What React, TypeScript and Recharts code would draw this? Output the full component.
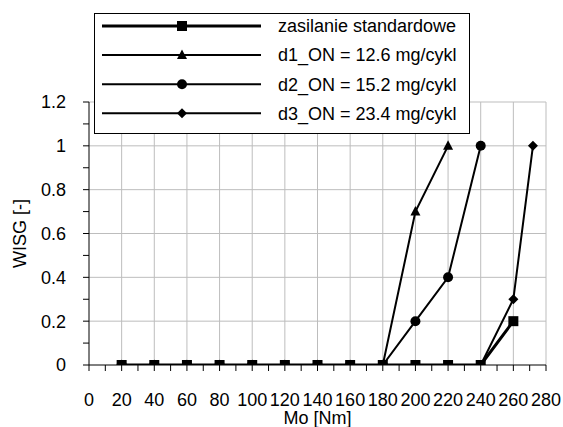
import React from 'react';
import { LineChart, Line, XAxis, YAxis, ReferenceLine, Legend, Label } from 'recharts';

const seriesNames = [
  'zasilanie standardowe',
  'd1_ON = 12.6 mg/cykl',
  'd2_ON = 15.2 mg/cykl',
  'd3_ON = 23.4 mg/cykl',
];

const stdX = [20, 40, 60, 80, 100, 120, 140, 160, 180, 200, 220, 240, 260];
const stdY = [0, 0, 0, 0, 0, 0, 0, 0, 0, 0, 0, 0, 0.2];

const d1X = [20, 40, 60, 80, 100, 120, 140, 160, 180, 200, 220];
const d1Y = [0, 0, 0, 0, 0, 0, 0, 0, 0, 0.7, 1];

const d2X = [20, 40, 60, 80, 100, 120, 140, 160, 180, 200, 220, 240];
const d2Y = [0, 0, 0, 0, 0, 0, 0, 0, 0, 0.2, 0.4, 1];

const d3X = [20, 40, 60, 80, 100, 120, 140, 160, 180, 200, 220, 240, 260, 272];
const d3Y = [0, 0, 0, 0, 0, 0, 0, 0, 0, 0, 0, 0, 0.3, 1];

const xTicks = [0, 10, 20, 30, 40, 50, 60, 70, 80, 90, 100, 110, 120, 130, 140, 150, 160, 170, 180, 190, 200, 210, 220, 230, 240, 250, 260, 270, 280];
const xTickLabels = ['0', '', '20', '', '40', '', '60', '', '80', '', '100', '', '120', '', '140', '', '160', '', '180', '', '200', '', '220', '', '240', '', '260', '', '280'];
const yTicks = [0, 0.1, 0.2, 0.3, 0.4, 0.5, 0.6, 0.7, 0.8, 0.9, 1.0, 1.1, 1.2];
const yTickLabels = ['0', '', '0.2', '', '0.4', '', '0.6', '', '0.8', '', '1', '', '1.2'];
const gridX = [20, 40, 60, 80, 100, 120, 140, 160, 180, 200, 220, 240, 260, 280];
const gridY = [0.2, 0.4, 0.6, 0.8, 1.0, 1.2];

const zip = (xs: number[], ys: number[]) => xs.map((x, i) => ({ x, y: ys[i] }));
const stdData = zip(stdX, stdY);
const d1Data = zip(d1X, d1Y);
const d2Data = zip(d2X, d2Y);
const d3Data = zip(d3X, d3Y);

const FONT = '"Liberation Sans", Arial, sans-serif';
const GRID = '#bdbdbd';

type Shape = 'square' | 'triangle' | 'circle' | 'diamond';
const shapes: Shape[] = ['square', 'triangle', 'circle', 'diamond'];
const widths = [3, 2, 2, 2];

function marker(shape: Shape, cx: number, cy: number, key?: string) {
  switch (shape) {
    case 'square':
      return <rect key={key} x={cx - 5} y={cy - 5} width={10} height={10} fill="#000" />;
    case 'triangle':
      return <polygon key={key} points={`${cx},${cy - 5.5} ${cx + 5},${cy + 4} ${cx - 5},${cy + 4}`} fill="#000" />;
    case 'circle':
      return <circle key={key} cx={cx} cy={cy} r={5} fill="#000" />;
    default:
      return <polygon key={key} points={`${cx},${cy - 5} ${cx + 5},${cy} ${cx},${cy + 5} ${cx - 5},${cy}`} fill="#000" />;
  }
}

const makeDot = (shape: Shape) => (props: any) => {
  const { cx, cy, index } = props;
  if (cx == null || cy == null) return <g key={`e-${shape}-${index}`} />;
  return marker(shape, cx, cy, `${shape}-${index}`);
};

const XTick = (props: any) => {
  const { x, y, index } = props;
  const label = xTickLabels[index];
  if (!label) return <g />;
  return (
    <text x={x} y={y} dy="0.71em" textAnchor="middle" fontSize={18} fontFamily={FONT} fill="#000">
      {label}
    </text>
  );
};

const YTick = (props: any) => {
  const { x, y, index } = props;
  const label = yTickLabels[index];
  if (!label) return <g />;
  return (
    <text x={x} y={y} dy="0.355em" textAnchor="end" fontSize={18} fontFamily={FONT} fill="#000">
      {label}
    </text>
  );
};

const LegendBox = () => (
  <div
    style={{
      width: 376,
      height: 121,
      border: '1px solid #000',
      background: '#fff',
      boxSizing: 'border-box',
    }}
  >
    <svg width={374} height={119} style={{ display: 'block' }}>
      {seriesNames.map((name, i) => {
        const cy = 12 + i * 29.1;
        return (
          <g key={name}>
            <line x1={7} x2={166} y1={cy} y2={cy} stroke="#000" strokeWidth={widths[i]} />
            {marker(shapes[i], 87, cy)}
            <text x={183} y={cy} dy="0.355em" fontSize={18} fontFamily={FONT} fill="#000">
              {name}
            </text>
          </g>
        );
      })}
    </svg>
  </div>
);

export default function App() {
  return (
    <div style={{ position: 'absolute', left: 0, top: 0, width: 563, height: 427, background: '#fff' }}>
      <LineChart width={563} height={427} margin={{ top: 102, right: 17, bottom: 12, left: 29 }}>
        {gridX.map((v) => (
          <ReferenceLine key={`gx-${v}`} x={v} stroke={GRID} strokeWidth={1} />
        ))}
        {gridY.map((v) => (
          <ReferenceLine key={`gy-${v}`} y={v} stroke={GRID} strokeWidth={1} />
        ))}
        <XAxis
          type="number"
          dataKey="x"
          domain={[0, 280]}
          ticks={xTicks}
          interval={0}
          allowDataOverflow
          height={50}
          tickSize={6}
          tickMargin={22}
          stroke="#000"
          tickLine={{ stroke: '#000' }}
          axisLine={{ stroke: '#000' }}
          tick={<XTick />}
        >
          <Label
            content={(p: any) => {
              const vb = p.viewBox || { x: 89, y: 365, width: 457 };
              return (
                <text x={vb.x + vb.width / 2} y={vb.y + 59} textAnchor="middle" fontSize={18} fontFamily={FONT} fill="#000">
                  Mo [Nm]
                </text>
              );
            }}
          />
        </XAxis>
        <YAxis
          type="number"
          domain={[0, 1.2]}
          ticks={yTicks}
          interval={0}
          allowDataOverflow
          width={60}
          tickSize={6}
          tickMargin={17}
          stroke="#000"
          tickLine={{ stroke: '#000' }}
          axisLine={{ stroke: '#000' }}
          tick={<YTick />}
        >
          <Label
            content={(p: any) => {
              const vb = p.viewBox || { x: 29, y: 102, width: 60, height: 263 };
              const cx = vb.x + vb.width - 69;
              const cy = vb.y + vb.height / 2;
              return (
                <text
                  x={cx}
                  y={cy}
                  dy="0.355em"
                  textAnchor="middle"
                  transform={`rotate(-90, ${cx}, ${cy})`}
                  fontSize={18}
                  fontFamily={FONT}
                  fill="#000"
                >
                  WISG [-]
                </text>
              );
            }}
          />
        </YAxis>
        <Line data={d1Data} dataKey="y" name={seriesNames[1]} type="linear" stroke="#000" strokeWidth={2} dot={makeDot('triangle')} activeDot={false} isAnimationActive={false} />
        <Line data={d2Data} dataKey="y" name={seriesNames[2]} type="linear" stroke="#000" strokeWidth={2} dot={makeDot('circle')} activeDot={false} isAnimationActive={false} />
        <Line data={d3Data} dataKey="y" name={seriesNames[3]} type="linear" stroke="#000" strokeWidth={2} dot={makeDot('diamond')} activeDot={false} isAnimationActive={false} />
        <Line data={stdData} dataKey="y" name={seriesNames[0]} type="linear" stroke="#000" strokeWidth={3} dot={makeDot('square')} activeDot={false} isAnimationActive={false} />
        <Legend
          layout="vertical"
          align="center"
          verticalAlign="middle"
          content={<LegendBox />}
          wrapperStyle={{ left: 94, top: 13, width: 376, height: 121 }}
        />
      </LineChart>
    </div>
  );
}
